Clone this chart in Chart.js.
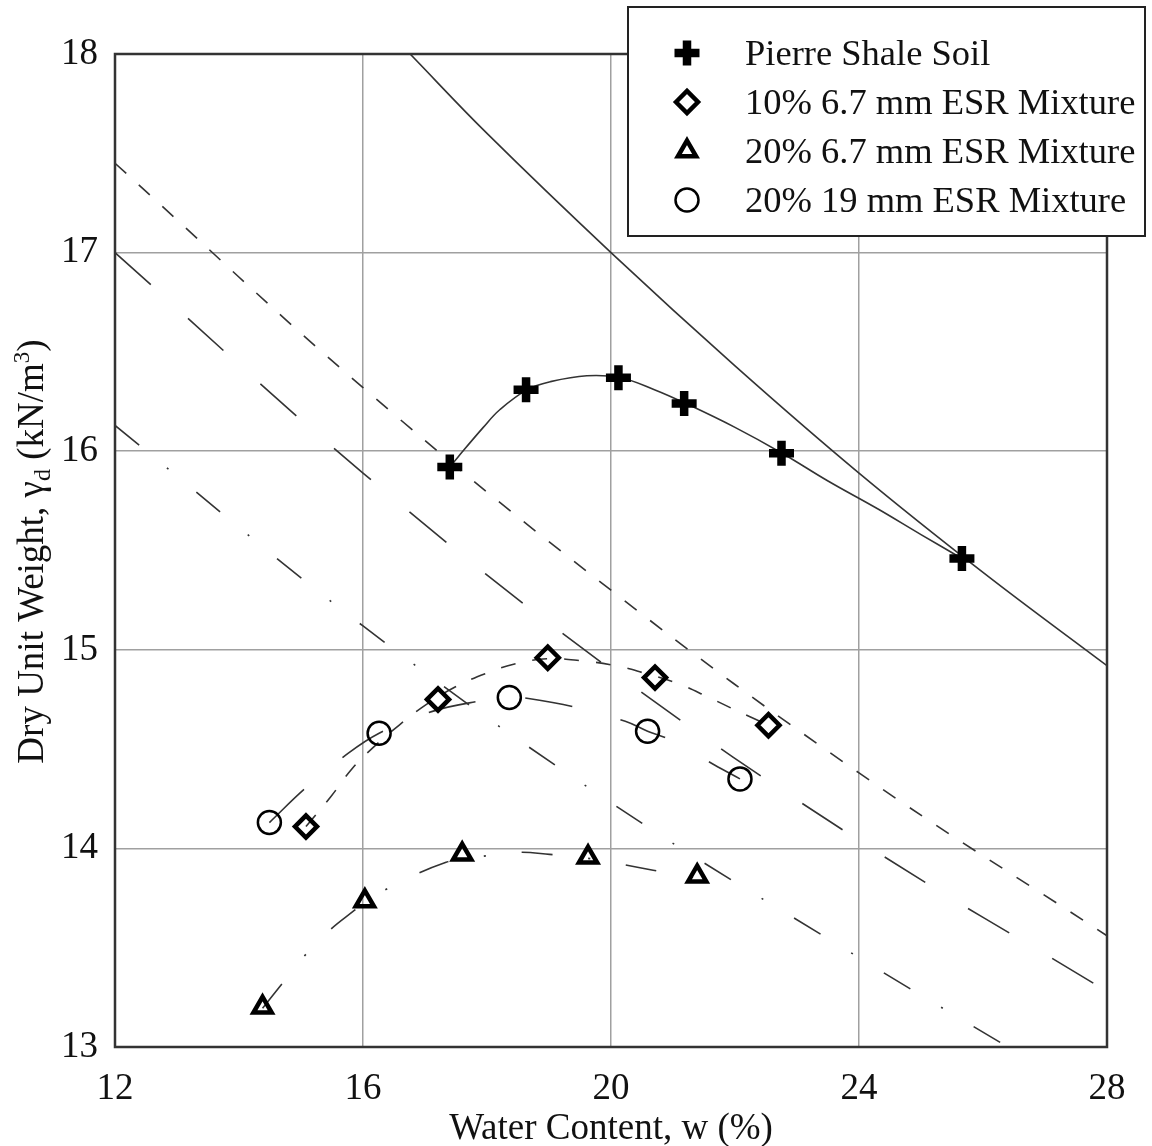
<!DOCTYPE html>
<html lang="en">
<head>
<meta charset="UTF-8" />
<title>Compaction Curves - Pierre Shale and ESR Mixtures</title>
<script src="https://cdn.jsdelivr.net/npm/chart.js"></script>
<style>
  html, body { margin: 0; padding: 0; background: #fff; }
  #wrap { width: 1152px; height: 1146px; }
</style>
</head>
<body>
<div id="wrap"><canvas id="proctorChart" width="1152" height="1146"></canvas></div>
<script>
// axis ticks
const xTicks = [12, 16, 20, 24, 28];
const yTicks = [13, 14, 15, 16, 17, 18];

// measured compaction points: water content (%) / dry unit weight (kN/m3)
const pierreW = [17.40, 18.63, 20.12, 21.18, 22.75, 25.66];
const pierreG = [15.92, 16.31, 16.37, 16.24, 15.99, 15.46];
const esr10W = [15.08, 17.21, 18.98, 20.71, 22.54];
const esr10G = [14.11, 14.75, 14.96, 14.86, 14.62];
const esr20W = [14.38, 16.03, 17.60, 19.63, 21.39];
const esr20G = [13.20, 13.735, 13.97, 13.955, 13.86];
const esr19W = [14.49, 16.26, 18.36, 20.59, 22.08];
const esr19G = [14.13, 14.58, 14.76, 14.59, 14.35];

// fitted compaction curves
const pierreFitW = [17.40, 17.53, 17.94, 18.21, 18.65, 19.02, 19.61, 20.15, 20.7, 21.21, 22.0, 22.76, 23.5, 24.3, 25.0, 25.66];
const pierreFitG = [15.92, 15.97, 16.12, 16.21, 16.31, 16.35, 16.38, 16.37, 16.31, 16.24, 16.12, 15.99, 15.85, 15.71, 15.58, 15.46];
const esr10FitW = [15.08, 15.48, 15.82, 16.17, 16.58, 17.0, 17.47, 17.97, 18.47, 18.98, 19.52, 20.08, 20.51, 21.08, 21.58, 22.05, 22.54];
const esr10FitG = [14.11, 14.26, 14.40, 14.51, 14.62, 14.72, 14.81, 14.88, 14.93, 14.955, 14.945, 14.92, 14.885, 14.83, 14.76, 14.69, 14.62];
const esr20FitW = [14.38, 14.70, 15.06, 15.47, 15.87, 16.03, 16.35, 16.86, 17.34, 17.6, 17.92, 18.5, 19.01, 19.63, 20.17, 20.68, 21.38];
const esr20FitG = [13.195, 13.32, 13.46, 13.59, 13.69, 13.73, 13.79, 13.87, 13.93, 13.95, 13.96, 13.98, 13.97, 13.95, 13.92, 13.89, 13.85];
const esr19FitW = [14.49, 15.06, 15.68, 16.26, 17.12, 17.85, 18.4, 18.67, 19.44, 20.23, 20.59, 20.93, 21.67, 22.08];
const esr19FitG = [14.13, 14.30, 14.46, 14.58, 14.69, 14.74, 14.76, 14.755, 14.71, 14.64, 14.59, 14.55, 14.42, 14.35];

// zero air voids lines
const zavPierreW = [16.76, 18, 20, 22, 24, 26, 28];
const zavPierreG = [18.0, 17.60, 17.0, 16.43, 15.89, 15.39, 14.92];
const zav10W = [12, 16, 20, 24, 28];
const zav10G = [17.45, 16.32, 15.30, 14.38, 13.56];
const zav20W = [12, 16, 20, 24, 26.4];
const zav20G = [16.13, 15.12, 14.23, 13.45, 13.0];
const zav19W = [12, 16, 20, 24, 28];
const zav19G = [17.0, 15.89, 14.90, 14.04, 13.28];

const seriesNames = [
  'Pierre Shale Soil',
  '10% 6.7 mm ESR Mixture',
  '20% 6.7 mm ESR Mixture',
  '20% 19 mm ESR Mixture',
];
const xTitle = 'Water Content, w (%)';

const serif = "'Liberation Serif', 'DejaVu Serif', serif";
const ink = '#111';
const lineInk = '#333';
const fontSize = 37;
const legendSize = 36.5;

const SHORT_DASH = [15, 17];
const LONG_DASH = [48, 50];
const DASH_DOT = [31, 36, 2, 36];

const pts = (ws, gs) => ws.map((w, i) => ({ x: w, y: gs[i] }));

const markers = [
  { pointStyle: 'cross', radius: 12.5, borderWidth: 8.5 },
  { pointStyle: 'rectRot', radius: 11, borderWidth: 4.5 },
  { pointStyle: 'triangle', radius: 10.5, borderWidth: 4.5 },
  { pointStyle: 'circle', radius: 11.5, borderWidth: 2.5 },
];

function markerSet(label, ws, gs, m) {
  return {
    label: label,
    data: pts(ws, gs),
    showLine: false,
    order: 0,
    pointStyle: m.pointStyle,
    pointRadius: m.radius,
    pointBorderWidth: m.borderWidth,
    pointBorderColor: '#000',
    pointBackgroundColor: 'rgba(0,0,0,0)',
  };
}

function lineSet(label, ws, gs, dash) {
  return {
    label: label,
    data: pts(ws, gs),
    showLine: true,
    order: 1,
    pointRadius: 0,
    borderColor: lineInk,
    borderWidth: 1.6,
    borderDash: dash,
    tension: 0.4,
    fill: false,
  };
}

// frame, axis titles and legend drawn on top of the plot
const overlay = {
  id: 'overlay',
  afterDraw(chart) {
    const { ctx, chartArea: a } = chart;
    ctx.save();

    ctx.strokeStyle = lineInk;
    ctx.lineWidth = 2.5;
    ctx.strokeRect(a.left, a.top, a.right - a.left, a.bottom - a.top);

    ctx.fillStyle = ink;
    ctx.font = `${fontSize}px ${serif}`;
    ctx.textAlign = 'center';
    ctx.textBaseline = 'alphabetic';
    ctx.fillText(xTitle, (a.left + a.right) / 2, 1139);

    // y title with subscript d and superscript 3
    const parts = [
      { t: 'Dry Unit Weight, \u03b3', s: fontSize, dy: 0 },
      { t: 'd', s: 24, dy: 7 },
      { t: ' (kN/m', s: fontSize, dy: 0 },
      { t: '3', s: 23, dy: -14 },
      { t: ')', s: fontSize, dy: 0 },
    ];
    let total = 0;
    parts.forEach(p => { ctx.font = `${p.s}px ${serif}`; p.w = ctx.measureText(p.t).width; total += p.w; });
    ctx.save();
    ctx.translate(43, (a.top + a.bottom) / 2 + 1);
    ctx.rotate(-Math.PI / 2);
    ctx.textAlign = 'left';
    let px = -total / 2;
    parts.forEach(p => { ctx.font = `${p.s}px ${serif}`; ctx.fillText(p.t, px, p.dy); px += p.w; });
    ctx.restore();

    // legend box
    const bx = 628, by = 7, bw = 517, bh = 229;
    ctx.fillStyle = '#fff';
    ctx.fillRect(bx, by, bw, bh);
    ctx.strokeStyle = '#222';
    ctx.lineWidth = 2;
    ctx.strokeRect(bx, by, bw, bh);
    const rows = [53, 102, 151, 200];
    ctx.font = `${legendSize}px ${serif}`;
    ctx.textAlign = 'left';
    ctx.textBaseline = 'middle';
    seriesNames.forEach((name, i) => {
      const m = markers[i];
      ctx.save();
      ctx.strokeStyle = '#000';
      ctx.fillStyle = 'rgba(0,0,0,0)';
      ctx.lineWidth = m.borderWidth;
      Chart.helpers.drawPoint(ctx, { pointStyle: m.pointStyle, radius: m.radius, borderWidth: m.borderWidth, rotation: 0 }, 687, rows[i]);
      ctx.restore();
      ctx.fillStyle = ink;
      ctx.fillText(name, 745, rows[i] + 2);
    });

    ctx.restore();
  }
};

new Chart(document.getElementById('proctorChart'), {
  type: 'scatter',
  data: {
    datasets: [
      markerSet(seriesNames[0], pierreW, pierreG, markers[0]),
      markerSet(seriesNames[1], esr10W, esr10G, markers[1]),
      markerSet(seriesNames[2], esr20W, esr20G, markers[2]),
      markerSet(seriesNames[3], esr19W, esr19G, markers[3]),
      lineSet('Pierre fit', pierreFitW, pierreFitG, []),
      lineSet('10% 6.7 mm fit', esr10FitW, esr10FitG, SHORT_DASH),
      lineSet('20% 6.7 mm fit', esr20FitW, esr20FitG, DASH_DOT),
      lineSet('20% 19 mm fit', esr19FitW, esr19FitG, LONG_DASH),
      lineSet('Pierre ZAV', zavPierreW, zavPierreG, []),
      lineSet('10% 6.7 mm ZAV', zav10W, zav10G, SHORT_DASH),
      lineSet('20% 6.7 mm ZAV', zav20W, zav20G, DASH_DOT),
      lineSet('20% 19 mm ZAV', zav19W, zav19G, LONG_DASH),
    ],
  },
  options: {
    responsive: false,
    animation: false,
    devicePixelRatio: 1,
    layout: { padding: { top: 54, right: 45, left: 0, bottom: 0 } },
    plugins: {
      legend: { display: false },
      tooltip: { enabled: false },
    },
    scales: {
      x: {
        type: 'linear',
        min: 12,
        max: 28,
        afterBuildTicks: (s) => { s.ticks = xTicks.map(v => ({ value: v })); },
        afterFit: (s) => { s.height = 99; },
        grid: { color: '#a0a0a0', lineWidth: 1.5, drawTicks: false },
        border: { display: false },
        ticks: { color: ink, font: { family: serif, size: fontSize }, padding: 20, maxRotation: 0 },
      },
      y: {
        type: 'linear',
        min: 13,
        max: 18,
        afterBuildTicks: (s) => { s.ticks = yTicks.map(v => ({ value: v })); },
        afterFit: (s) => { s.width = 115; },
        grid: { color: '#a0a0a0', lineWidth: 1.5, drawTicks: false },
        border: { display: false },
        ticks: { color: ink, font: { family: serif, size: fontSize }, padding: 17 },
      },
    },
  },
  plugins: [overlay],
});
</script>
</body>
</html>
